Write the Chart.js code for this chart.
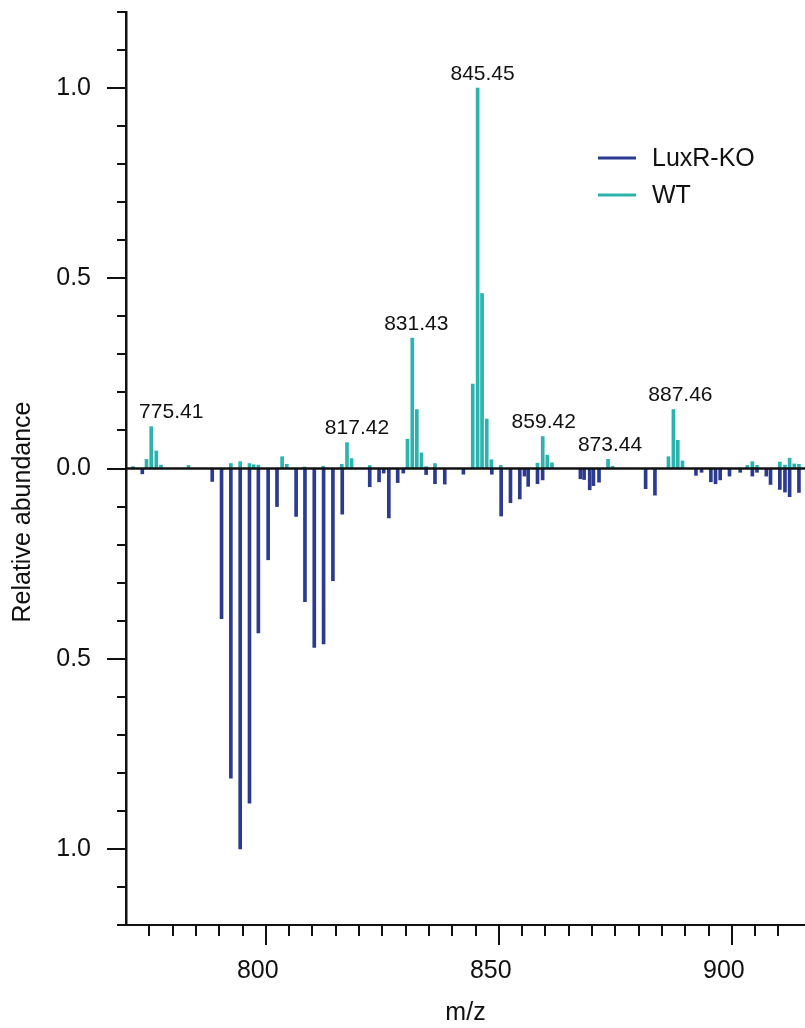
<!DOCTYPE html>
<html>
<head>
<meta charset="utf-8">
<script src="https://cdn.jsdelivr.net/npm/chart.js@4.4.1/dist/chart.umd.min.js"></script>
<style>
  html, body { margin: 0; padding: 0; background: #fff; }
  #wrap { width: 805px; height: 1028px; }
</style>
</head>
<body>
<div id="wrap"><canvas id="myChart" width="805" height="1028"></canvas></div>
<script>
// m/z Werte und relative Intensitäten (WT nach oben, LuxR-KO nach unten gespiegelt)
const wtMz = [771.5, 774.4, 775.41, 776.5, 777.5, 783.4, 792.5, 794.5, 796.5, 797.4, 798.4,
  803.5, 804.5, 808.3, 812.3, 816.3, 817.42, 818.4, 822.3, 830.4, 831.43, 832.4, 833.4, 834.4,
  836.3, 844.4, 845.45, 846.4, 847.4, 848.4, 850.4, 858.3, 859.42, 860.4, 861.4, 873.44, 874.4,
  886.4, 887.46, 888.4, 889.4, 903.3, 904.4, 905.4, 910.3, 911.4, 912.4, 913.4, 914.4];
const wtAbund = [0.005, 0.024, 0.11, 0.046, 0.009, 0.008, 0.013, 0.018, 0.013, 0.01, 0.009,
  0.031, 0.011, 0.004, 0.006, 0.011, 0.068, 0.026, 0.008, 0.077, 0.343, 0.155, 0.041, 0.005,
  0.013, 0.222, 1.0, 0.46, 0.13, 0.023, 0.008, 0.014, 0.084, 0.035, 0.015, 0.024, 0.006,
  0.031, 0.155, 0.074, 0.02, 0.008, 0.018, 0.008, 0.017, 0.009, 0.027, 0.012, 0.011];

const koMz = [773.5, 788.5, 790.5, 792.5, 794.5, 796.5, 798.4, 800.5, 802.4, 806.5, 808.4,
  810.4, 812.4, 814.4, 816.4, 822.3, 824.3, 825.3, 826.4, 828.3, 829.5, 834.4, 836.3, 838.4,
  842.4, 848.5, 850.5, 852.5, 854.5, 855.5, 856.3, 858.3, 859.4, 867.5, 868.3, 869.5, 870.3,
  871.5, 881.5, 883.5, 892.3, 893.5, 895.5, 896.5, 897.5, 899.5, 901.8, 904.4, 905.4, 907.4,
  908.3, 910.3, 911.4, 912.4, 914.4];
const koAbund = [0.014, 0.034, 0.395, 0.814, 1.0, 0.88, 0.432, 0.24, 0.1, 0.126, 0.35,
  0.47, 0.461, 0.295, 0.12, 0.048, 0.035, 0.012, 0.13, 0.037, 0.012, 0.016, 0.04, 0.041,
  0.015, 0.015, 0.125, 0.09, 0.08, 0.02, 0.047, 0.04, 0.03, 0.027, 0.029, 0.056, 0.045,
  0.036, 0.053, 0.07, 0.018, 0.01, 0.035, 0.04, 0.03, 0.02, 0.01, 0.02, 0.01, 0.02,
  0.042, 0.055, 0.062, 0.074, 0.063];

// beschriftete Peaks (WT)
const peakLabels = ['775.41', '817.42', '831.43', '845.45', '859.42', '873.44', '887.46'];
const peakLabelDx = [20, 10, 4, 5, 1, 2, 7];

const koColor = '#2c3a92';
const wtColor = '#2bb3ad';
const axisColor = '#111';
const fontFamily = '"Liberation Sans", Arial, Helvetica, sans-serif';
const yTitle = 'Relative abundance';

// Achsen-Ticks: lange Striche bei 0.5 bzw. 50, kurze dazwischen
const axisTicks = {
  id: 'axisTicks',
  afterDraw(chart) {
    const ctx = chart.ctx;
    const area = chart.chartArea;
    const xs = chart.scales.x, ys = chart.scales.y;
    ctx.save();
    ctx.strokeStyle = axisColor;
    ctx.lineWidth = 2;
    ys.ticks.forEach(t => {
      const y = Math.round(ys.getPixelForValue(t.value));
      const major = Math.round(t.value * 10) % 5 === 0;
      ctx.beginPath();
      ctx.moveTo(area.left - (major ? 19 : 9), y);
      ctx.lineTo(area.left, y);
      ctx.stroke();
    });
    xs.ticks.forEach(t => {
      if (t.value <= xs.min) return;
      if (Math.abs(t.value / 5 - Math.round(t.value / 5)) > 1e-6) return;
      const x = Math.round(xs.getPixelForValue(t.value));
      const major = Math.round(t.value) % 50 === 0;
      ctx.beginPath();
      ctx.moveTo(x, area.bottom);
      ctx.lineTo(x, area.bottom + (major ? 20 : 11));
      ctx.stroke();
    });
    // y-Achsentitel, etwas unterhalb der Mitte
    ctx.fillStyle = '#111';
    ctx.font = '25px ' + fontFamily;
    ctx.textAlign = 'center';
    ctx.textBaseline = 'middle';
    ctx.translate(23.5, 512);
    ctx.rotate(-Math.PI / 2);
    ctx.fillText(yTitle, 0, 0);
    ctx.restore();
  }
};

// Nulllinie über den Balken
const zeroLine = {
  id: 'zeroLine',
  afterDatasetsDraw(chart) {
    const ctx = chart.ctx;
    const area = chart.chartArea;
    const y = chart.scales.y.getPixelForValue(0);
    ctx.save();
    ctx.strokeStyle = axisColor;
    ctx.lineWidth = 2.5;
    ctx.beginPath();
    ctx.moveTo(area.left, y);
    ctx.lineTo(area.right, y);
    ctx.stroke();
    ctx.restore();
  }
};

// m/z-Beschriftung über den Peaks
const peakText = {
  id: 'peakText',
  afterDatasetsDraw(chart) {
    const ctx = chart.ctx;
    const meta = chart.getDatasetMeta(1);
    ctx.save();
    ctx.fillStyle = '#111';
    ctx.font = '21px ' + fontFamily;
    ctx.textAlign = 'center';
    ctx.textBaseline = 'alphabetic';
    peakLabels.forEach((lbl, i) => {
      const idx = wtMz.indexOf(parseFloat(lbl));
      if (idx < 0) return;
      const bar = meta.data[idx];
      ctx.fillText(lbl, bar.x + peakLabelDx[i], bar.y - 8.5);
    });
    ctx.restore();
  }
};

// Legende rechts oben
const legendBox = {
  id: 'legendBox',
  afterDraw(chart) {
    const ctx = chart.ctx;
    ctx.save();
    ctx.font = '25px ' + fontFamily;
    ctx.textBaseline = 'middle';
    ctx.fillStyle = '#111';
    chart.data.datasets.forEach((ds, i) => {
      const y = 158 + i * 37;
      ctx.strokeStyle = ds.backgroundColor;
      ctx.lineWidth = 3;
      ctx.beginPath();
      ctx.moveTo(598, y);
      ctx.lineTo(636, y);
      ctx.stroke();
      ctx.fillText(ds.label, 652, y + 1);
    });
    ctx.restore();
  }
};

const ctx = document.getElementById('myChart').getContext('2d');

let chart = new Chart(ctx, {
  type: 'bar',
  data: {
    datasets: [
      {
        label: 'LuxR-KO',
        data: koMz.map((m, i) => ({ x: m, y: -koAbund[i] })),
        backgroundColor: koColor,
        barThickness: 3,
        grouped: false
      },
      {
        label: 'WT',
        data: wtMz.map((m, i) => ({ x: m, y: wtAbund[i] })),
        backgroundColor: wtColor,
        barThickness: 3,
        grouped: false
      }
    ]
  },
  options: {
    responsive: false,
    animation: false,
    layout: { padding: { left: 0, right: 0, top: 12, bottom: 0 } },
    plugins: {
      legend: { display: false },
      tooltip: { enabled: false }
    },
    scales: {
      x: {
        type: 'linear',
        min: 770,
        max: 915.7,
        offset: false,
        afterFit: s => { s.height = 103; s.paddingLeft = 0; s.paddingRight = 0; },
        grid: { drawOnChartArea: false, drawTicks: false },
        border: { color: axisColor, width: 2 },
        ticks: {
          stepSize: 5,
          autoSkip: false,
          maxRotation: 0,
          padding: 31,
          labelOffset: -8,
          color: '#111',
          font: { family: fontFamily, size: 25 },
          callback: v => (Math.round(v) % 50 === 0 && Math.abs(v - Math.round(v)) < 1e-6 ? String(Math.round(v)) : '')
        },
        title: {
          display: true,
          text: 'm/z',
          color: '#111',
          font: { family: fontFamily, size: 25 },
          padding: { top: 0, bottom: 0 }
        }
      },
      y: {
        min: -1.2,
        max: 1.2,
        afterFit: s => { s.width = 126; s.paddingTop = 0; s.paddingBottom = 0; },
        grid: { drawOnChartArea: false, drawTicks: false },
        border: { color: axisColor, width: 2.5 },
        ticks: {
          stepSize: 0.1,
          autoSkip: false,
          padding: 35,
          color: '#111',
          font: { family: fontFamily, size: 25 },
          callback: v => (Math.round(v * 10) % 5 === 0 ? Math.abs(v).toFixed(1) : '')
        }
      }
    }
  },
  plugins: [zeroLine, peakText, axisTicks, legendBox]
});
</script>
</body>
</html>
